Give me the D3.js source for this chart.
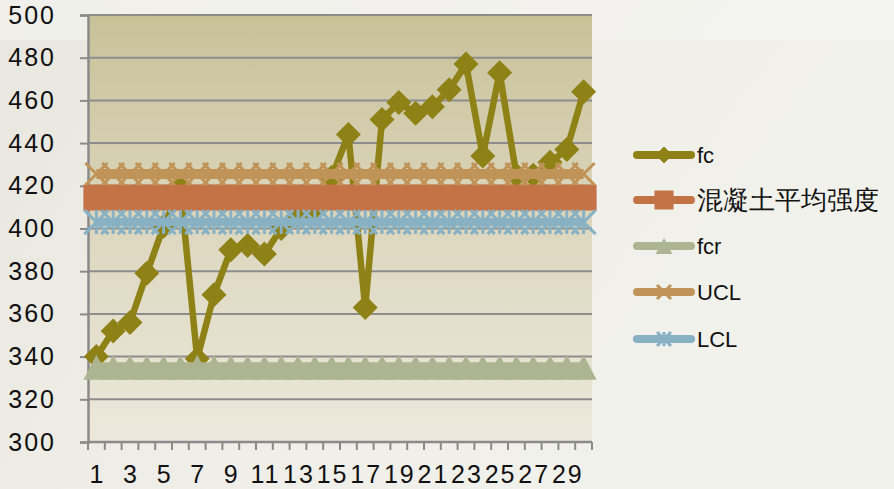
<!DOCTYPE html>
<html>
<head>
<meta charset="utf-8">
<script src="https://cdn.jsdelivr.net/npm/d3@7/dist/d3.min.js"></script>
<style>
html,body{margin:0;padding:0;background:#efeee7;}
svg{display:block;}
text{font-family:"Liberation Sans",Arial,sans-serif;fill:#111;}
</style>
</head>
<body>
<svg id="chart" width="894" height="489"></svg>
<script>
// ---- data ----
const categories = d3.range(1, 31);
const fc = [340, 352, 356, 379, 401, 419, 339, 369, 390, 392,
            388, 400, 406, 410, 424, 444, 363, 451, 459, 454,
            457, 465, 477, 434, 473, 425, 425, 431, 437, 464];
const meanStrength = categories.map(() => 414.5);
const fcr = categories.map(() => 335);
const UCL = categories.map(() => 425.5);
const LCL = categories.map(() => 403);
const yTicks = [300, 320, 340, 360, 380, 400, 420, 440, 460, 480, 500];
const xTickLabels = categories.filter(c => c % 2 === 1);
const seriesNames = ["fc", "混凝土平均强度", "fcr", "UCL", "LCL"];

// ---- layout ----
const svg = d3.select("#chart");
const W = 894, H = 489;
const L = 88, R = 592, T = 15, B = 442;

const defs = svg.append("defs");
const pg = defs.append("linearGradient").attr("id", "pageBg").attr("x1", 0).attr("y1", 0).attr("x2", 1).attr("y2", 0.4);
pg.append("stop").attr("offset", "0%").attr("stop-color", "#e8e7df");
pg.append("stop").attr("offset", "55%").attr("stop-color", "#efeee8");
pg.append("stop").attr("offset", "100%").attr("stop-color", "#f2f2ed");
svg.append("rect").attr("width", W).attr("height", H).attr("fill", "url(#pageBg)");
svg.append("rect").attr("width", W).attr("height", 40).attr("fill", "#f5f5f1").attr("opacity", 0.6);

const bg = defs.append("linearGradient").attr("id", "plotBg").attr("x1", 0).attr("y1", 0).attr("x2", 0).attr("y2", 1);
bg.append("stop").attr("offset", "0%").attr("stop-color", "#c8c198");
bg.append("stop").attr("offset", "50%").attr("stop-color", "#ddd7bf");
bg.append("stop").attr("offset", "100%").attr("stop-color", "#ece9dc");

const x = d3.scaleBand().domain(categories).range([L, R]).padding(0);
const y = d3.scaleLinear().domain([300, 500]).range([B, T]);
const cx = d => x(d) + x.bandwidth() / 2;

svg.append("rect").attr("x", L).attr("y", T).attr("width", R - L).attr("height", B - T).attr("fill", "url(#plotBg)");

// gridlines
svg.append("g").selectAll("line").data(yTicks).join("line")
  .attr("x1", L).attr("x2", R).attr("y1", d => y(d)).attr("y2", d => y(d))
  .attr("stroke", "#8c8c8c").attr("stroke-width", 2);

// y axis
const yAxis = svg.append("g").attr("transform", `translate(${L},0)`)
  .call(d3.axisLeft(y).tickValues(yTicks).tickSize(8).tickPadding(24).tickFormat(d3.format("d")));
yAxis.select(".domain").attr("stroke", "#8a8a8a").attr("stroke-width", 2.5);
yAxis.selectAll(".tick line").attr("stroke", "#8a8a8a").attr("stroke-width", 2);
yAxis.selectAll(".tick text").attr("font-size", 25).attr("letter-spacing", "2px")
  .attr("font-family", "Liberation Sans, Arial, sans-serif").attr("fill", "#111");

// x axis: ticks at category boundaries
const xAxisG = svg.append("g").attr("transform", `translate(0,${B})`);
xAxisG.append("line").attr("x1", L).attr("x2", R).attr("y1", 0).attr("y2", 0)
  .attr("stroke", "#8a8a8a").attr("stroke-width", 2.5);
const boundaries = categories.map(c => x(c)).concat([x(categories[categories.length - 1]) + x.bandwidth()]);
xAxisG.selectAll("line.tk").data(boundaries).join("line").attr("class", "tk")
  .attr("x1", d => d).attr("x2", d => d).attr("y1", 0).attr("y2", 8)
  .attr("stroke", "#8a8a8a").attr("stroke-width", 2);
xAxisG.selectAll("text").data(xTickLabels).join("text")
  .attr("x", d => cx(d) + 1).attr("y", 41)
  .attr("text-anchor", "middle").attr("font-size", 25).attr("letter-spacing", "2px")
  .text(d => d);

// ---- marker shapes ----
function drawMarker(g, type, px, py, s, color) {
  if (type === "diamond") {
    g.append("path").attr("d", `M${px},${py - s / 2}L${px + s / 2},${py}L${px},${py + s / 2}L${px - s / 2},${py}Z`).attr("fill", color);
  } else if (type === "square") {
    g.append("rect").attr("x", px - s / 2).attr("y", py - s / 2).attr("width", s).attr("height", s).attr("fill", color);
  } else if (type === "triangle") {
    g.append("path").attr("d", `M${px},${py - s / 2}L${px + s * 0.52},${py + s / 2}L${px - s * 0.52},${py + s / 2}Z`).attr("fill", color);
  } else if (type === "x") {
    const h = s / 2;
    g.append("path").attr("d", `M${px - h},${py - h}L${px + h},${py + h}M${px - h},${py + h}L${px + h},${py - h}`)
      .attr("stroke", color).attr("stroke-width", 3).attr("fill", "none");
  } else if (type === "star") {
    const h = s / 2;
    g.append("path").attr("d", `M${px - h},${py - h}L${px + h},${py + h}M${px - h},${py + h}L${px + h},${py - h}M${px},${py - h}L${px},${py + h}`)
      .attr("stroke", color).attr("stroke-width", 3).attr("fill", "none");
  }
}

const series = [
  { name: seriesNames[0], values: fc, color: "#8e8116", lw: 6.5, marker: "diamond", ms: 25 },
  { name: seriesNames[1], values: meanStrength, color: "#c47346", lw: 10, marker: "square", ms: 26 },
  { name: seriesNames[2], values: fcr, color: "#adb491", lw: 10, marker: "triangle", ms: 25 },
  { name: seriesNames[3], values: UCL, color: "#c09458", lw: 10, marker: "x", ms: 22 },
  { name: seriesNames[4], values: LCL, color: "#88b1c4", lw: 8, marker: "star", ms: 24 }
];

const line = d3.line().x((d, i) => cx(categories[i])).y(d => y(d));

series.forEach(s => {
  const g = svg.append("g");
  g.append("path").datum(s.values).attr("d", line).attr("fill", "none")
    .attr("stroke", s.color).attr("stroke-width", s.lw).attr("stroke-linejoin", "round");
  s.values.forEach((v, i) => drawMarker(g, s.marker, cx(categories[i]), y(v), s.ms, s.color));
});

// ---- legend ----
const legY = [155, 200, 246, 292, 339];
const lg = svg.append("g");
series.forEach((s, i) => {
  const ly = legY[i];
  lg.append("line").attr("x1", 637).attr("x2", 691).attr("y1", ly).attr("y2", ly)
    .attr("stroke", s.color).attr("stroke-width", 8).attr("stroke-linecap", "round");
  const lsz = { diamond: 17, square: 19, triangle: 16, x: 14, star: 14 }[s.marker];
  drawMarker(lg, s.marker, 664, ly, lsz, s.color);
  const isCJK = /[\u4e00-\u9fff]/.test(s.name);
  lg.append("text").attr("x", 697).attr("y", ly).attr("dominant-baseline", "central")
    .attr("font-size", isCJK ? 26 : 22)
    .attr("font-family", isCJK ? "Noto Sans CJK SC, sans-serif" : "Liberation Sans, Arial, sans-serif")
    .attr("font-weight", isCJK ? 300 : 400)
    .text(s.name);
});
</script>
</body>
</html>
